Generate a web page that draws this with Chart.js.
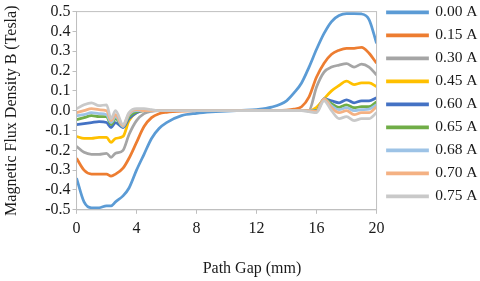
<!DOCTYPE html>
<html>
<head>
<meta charset="utf-8">
<script src="https://cdn.jsdelivr.net/npm/chart.js@4"></script>
<style>
  body { margin: 0; background: #fff; }
  #wrap { width: 480px; height: 281px; }
</style>
</head>
<body>
<div id="wrap"><canvas id="chartContainer"></canvas></div>
<script>
// path gap positions (mm)
const gap = [0, 0.5, 1, 1.5, 2, 2.3, 2.6, 3.1, 3.5, 4, 4.5, 5, 5.5, 6, 7, 8, 9, 10, 11, 12, 13, 14, 14.5, 15, 15.5, 16, 16.5, 17, 17.5, 18, 18.5, 19, 19.5, 20];

const currents = ['0.00 A', '0.15 A', '0.30 A', '0.45 A', '0.60 A', '0.65 A', '0.68 A', '0.70 A', '0.75 A'];
const colors = ['#5B9BD5', '#ED7D31', '#A5A5A5', '#FFC000', '#4472C4', '#70AD47', '#9DC3E6', '#F4B183', '#C9C9C9'];

const b000 = [-0.34, -0.46, -0.49, -0.49, -0.48, -0.48, -0.46, -0.43, -0.39, -0.30, -0.22, -0.14, -0.09, -0.06, -0.025, -0.013, -0.006, -0.002, 0.002, 0.006, 0.018, 0.05, 0.09, 0.14, 0.22, 0.31, 0.39, 0.45, 0.48, 0.49, 0.49, 0.488, 0.46, 0.34];
const b015 = [-0.24, -0.30, -0.32, -0.32, -0.32, -0.33, -0.32, -0.29, -0.24, -0.16, -0.08, -0.035, -0.015, -0.008, -0.002, 0, 0, 0, 0, 0, 0.001, 0.003, 0.008, 0.02, 0.07, 0.17, 0.24, 0.285, 0.305, 0.315, 0.315, 0.32, 0.29, 0.24];
const b030 = [-0.18, -0.21, -0.22, -0.22, -0.215, -0.235, -0.215, -0.2, -0.12, -0.05, -0.015, -0.003, 0, 0, 0, 0, 0, 0, 0, 0, 0, 0, 0, 0, 0.002, 0.12, 0.195, 0.22, 0.23, 0.237, 0.22, 0.235, 0.22, 0.18];
const b045 = [-0.13, -0.14, -0.14, -0.135, -0.135, -0.16, -0.14, -0.13, -0.05, -0.01, 0, 0, 0, 0, 0, 0, 0, 0, 0, 0, 0, 0, 0, 0, 0, 0.017, 0.06, 0.1, 0.127, 0.149, 0.132, 0.14, 0.14, 0.122];
const b060 = [-0.07, -0.065, -0.06, -0.055, -0.06, -0.085, -0.06, -0.085, -0.04, -0.01, 0, 0, 0, 0, 0, 0, 0, 0, 0, 0, 0, 0, 0, 0, 0, 0, 0.06, 0.05, 0.04, 0.055, 0.04, 0.05, 0.05, 0.065];
const b065 = [-0.045, -0.035, -0.025, -0.03, -0.03, -0.07, -0.04, -0.08, -0.03, -0.005, 0, 0, 0, 0, 0, 0, 0, 0, 0, 0, 0, 0, 0, 0, 0, 0, 0.06, 0.035, 0.017, 0.03, 0.015, 0.02, 0.02, 0.045];
const b068 = [-0.025, -0.02, -0.01, -0.015, -0.02, -0.06, -0.03, -0.08, -0.02, 0, 0, 0, 0, 0, 0, 0, 0, 0, 0, 0, 0, 0, 0, 0, 0, -0.002, 0.06, 0.025, 0.005, 0.015, 0, 0.005, 0.008, 0.03];
const b070 = [-0.01, 0, 0.01, 0.005, 0, -0.05, -0.02, -0.075, -0.015, 0.005, 0, 0, 0, 0, 0, 0, 0, 0, 0, 0, 0, 0, 0, 0, 0, -0.005, 0.06, 0.015, -0.01, 0, -0.02, -0.01, -0.01, 0.02];
const b075 = [0.01, 0.03, 0.04, 0.025, 0.03, -0.04, 0, -0.07, -0.01, 0.01, 0.01, 0.005, 0, 0, 0, 0, 0, 0, 0, 0, 0, 0, 0, 0, -0.005, -0.01, 0.05, 0, -0.04, -0.03, -0.05, -0.04, -0.04, -0.01];

const series = [b000, b015, b030, b045, b060, b065, b068, b070, b075];

const font = 'Liberation Serif';
Chart.defaults.font.family = font;
Chart.defaults.color = '#1a1a1a';

// box around the plot area, x title, and legend placement
const extras = {
  id: 'extras',
  afterLayout(chart) {
    // pin the legend where the original has it
    chart.legend.left = 380;
    chart.legend.top = -3;
  },
  afterDatasetsDraw(chart) {
    const a = chart.chartArea;
    const ctx = chart.ctx;
    ctx.save();
    ctx.strokeStyle = '#bfbfbf';
    ctx.lineWidth = 1;
    ctx.strokeRect(a.left, a.top, a.right - a.left, a.bottom - a.top);
    ctx.fillStyle = '#1a1a1a';
    ctx.font = '16px "' + font + '"';
    ctx.textAlign = 'center';
    ctx.textBaseline = 'middle';
    ctx.fillText('Path Gap (mm)', 252, 269);
    ctx.restore();
  }
};

let chart = new Chart(document.getElementById('chartContainer').getContext('2d'), {
  type: 'line',
  data: {
    datasets: series.map((s, i) => ({
      label: currents[i],
      data: s.map((v, j) => ({ x: gap[j], y: v })),
      borderColor: colors[i],
      backgroundColor: colors[i],
      borderWidth: 2.75,
      pointRadius: 0,
      cubicInterpolationMode: 'monotone',
      fill: false
    })).reverse()
  },
  options: {
    responsive: true,
    maintainAspectRatio: false,
    animation: false,
    layout: { padding: { left: 2, right: -4, top: 2, bottom: 38 } },
    scales: {
      x: {
        type: 'linear',
        min: 0,
        max: 20,
        ticks: { stepSize: 4, font: { size: 16 }, padding: 5 },
        grid: { drawOnChartArea: false, tickLength: 4, color: '#bfbfbf' },
        border: { color: '#bfbfbf' }
      },
      y: {
        min: -0.5,
        max: 0.5,
        ticks: {
          stepSize: 0.1,
          autoSkip: false,
          font: { size: 16 },
          padding: 2,
          callback: v => (Math.abs(v) < 1e-9 ? 0 : v).toFixed(1)
        },
        grid: { drawOnChartArea: false, tickLength: 4, color: '#bfbfbf' },
        border: { color: '#bfbfbf' },
        title: { display: true, text: 'Magnetic Flux Density B (Tesla)', font: { size: 16 }, padding: { top: 0, bottom: 22 } }
      }
    },
    plugins: {
      legend: {
        position: 'right',
        align: 'start',
        reverse: true,
        labels: { boxWidth: 40, boxHeight: 1, padding: 7.5, font: { size: 15.5 } }
      },
      tooltip: { enabled: false }
    }
  },
  plugins: [extras]
});
</script>
</body>
</html>
